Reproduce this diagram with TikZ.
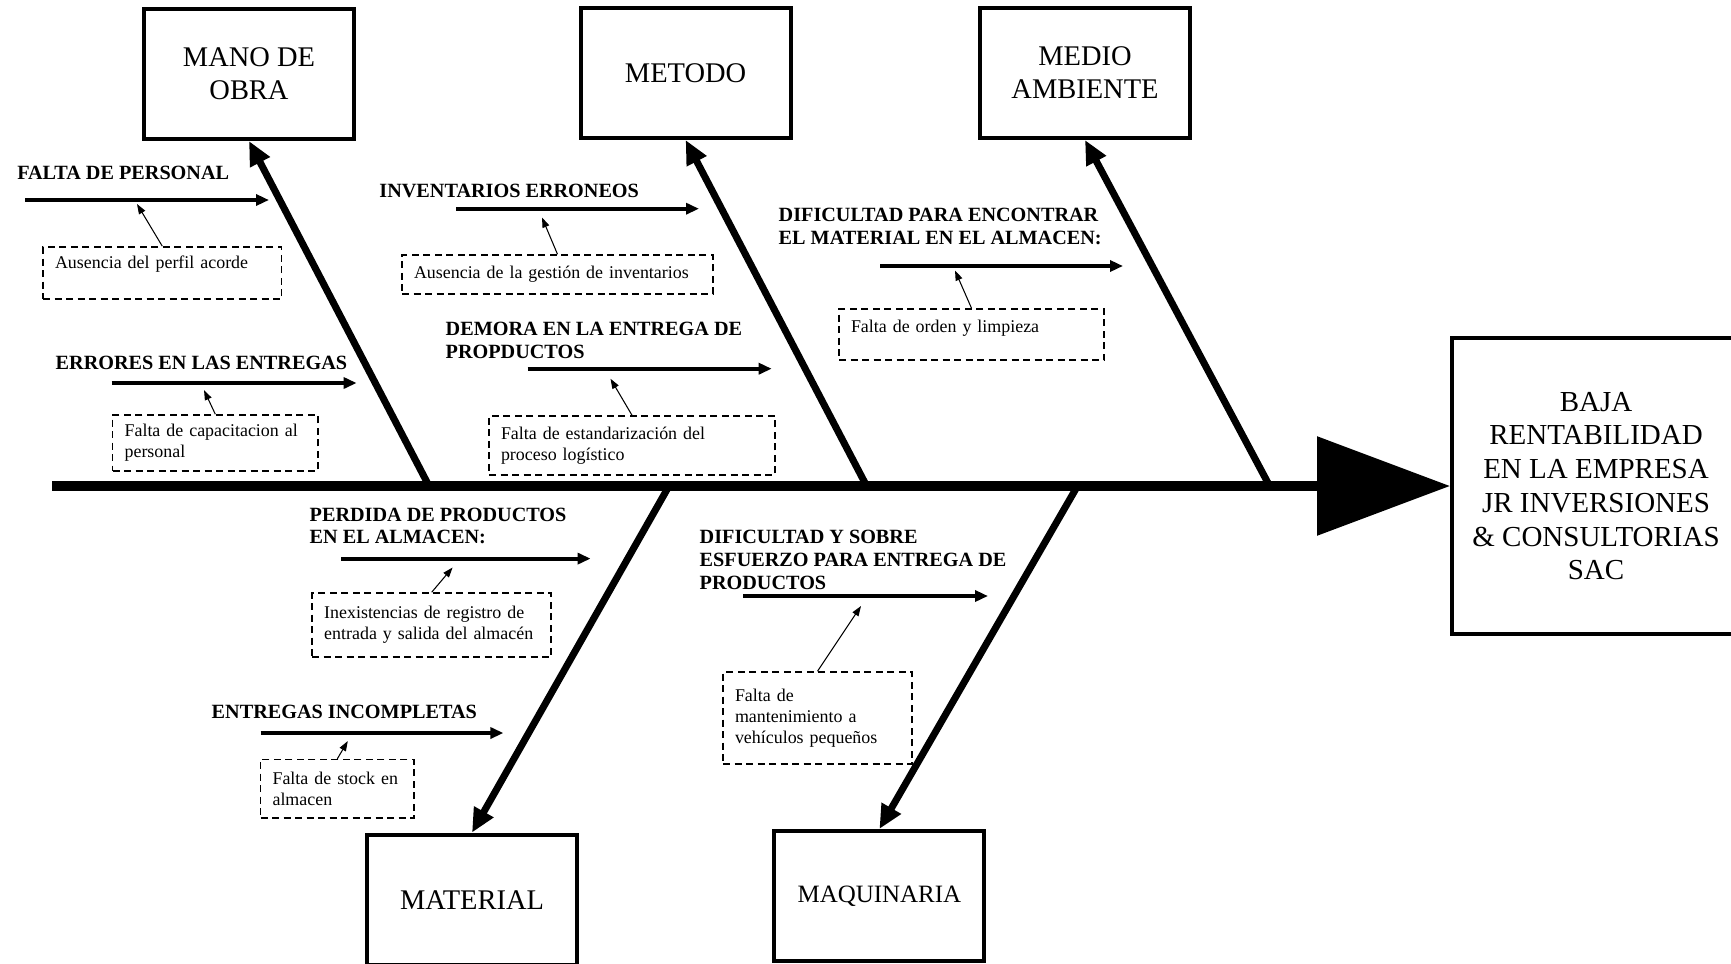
\documentclass[tikz,border=0pt]{standalone}
\usepackage{fontspec}
\setmainfont{Liberation Serif}
\usetikzlibrary{arrows.meta, positioning}
\tikzstyle{cat} = [rectangle, draw=black, line width=1.15pt, minimum width=21mm, minimum height=13mm, align=center, font=\fontsize{8.1}{9.35}\selectfont]
\tikzstyle{head} = [rectangle, draw=black, line width=1.15pt, minimum width=28.8mm, minimum height=29.6mm, align=center, font=\fontsize{8.25}{9.6}\selectfont]
\tikzstyle{cause} = [anchor=west, inner sep=0pt, align=left, font=\fontsize{5.75}{6.5}\selectfont\bfseries]
\tikzstyle{note} = [rectangle, draw=black, line width=0.45pt, dash pattern=on 0.7mm off 0.45mm, inner xsep=1.2mm, inner ysep=0.5mm, align=left, font=\fontsize{5.1}{5.95}\selectfont]
\tikzstyle{spine} = [line width=0.95mm, -{Triangle[length=13.3mm,width=9.7mm]}]
\tikzstyle{bone} = [line width=0.7mm, -{Triangle[length=2.4mm,width=2.1mm]}]
\tikzstyle{sub} = [line width=1.1pt, -{Triangle[length=1.3mm,width=1.1mm]}]
\tikzstyle{thin} = [line width=0.3pt, -{Triangle[length=1mm,width=0.7mm]}]

\begin{document}
\begin{tikzpicture}[x=0.1mm, y=-0.1mm]
    \useasboundingbox (0,0) rectangle (1731,963);

    \node (mano) [cat] at (249,74) {MANO DE\\OBRA};
    \node (metodo) [cat] at (685.6,73) {METODO};
    \node (medio) [cat] at (1085,73) {MEDIO\\AMBIENTE};
    \node (material) [cat] at (472,899.6) {MATERIAL};
    \node (maquinaria) [cat, font=\fontsize{7.1}{8.2}\selectfont] at (879.4,896) {MAQUINARIA};
    \node (baja) [head] at (1596,486) {BAJA\\RENTABILIDAD\\EN LA EMPRESA\\JR INVERSIONES\\\& CONSULTORIAS\\SAC};

    \coordinate (tail) at (52,486);
    \coordinate (s1) at (429,486);
    \coordinate (s2) at (866.6,486);
    \coordinate (s3) at (1269.6,486);
    \coordinate (s4) at (669,486);
    \coordinate (s5) at (1077.5,486);

    \draw [spine] (tail) -- (baja.west);
    \draw [bone] (s1) -- (mano.south);
    \draw [bone] (s2) -- (metodo.south);
    \draw [bone] (s3) -- (medio.south);
    \draw [bone] (s4) -- (material.north);
    \draw [bone] (s5) -- (maquinaria.north);

    % causas
    \node (personal) [cause] at (16.6,173) {FALTA DE PERSONAL};
    \node (errores) [cause] at (55,363) {ERRORES EN LAS ENTREGAS};
    \node (inventarios) [cause] at (378.7,191) {INVENTARIOS ERRONEOS};
    \node (demora) [cause] at (445,340.5) {DEMORA EN LA ENTREGA DE\\PROPDUCTOS};
    \node (dificultad) [cause] at (778,226.7) {DIFICULTAD PARA ENCONTRAR\\EL MATERIAL EN EL ALMACEN:};
    \node (perdida) [cause] at (309,526) {PERDIDA DE PRODUCTOS\\EN EL ALMACEN:};
    \node (incompletas) [cause] at (211,712) {ENTREGAS INCOMPLETAS};
    \node (esfuerzo) [cause] at (699,559.7) {DIFICULTAD Y SOBRE\\ESFUERZO PARA ENTREGA DE\\PRODUCTOS};

    \coordinate (a1) at (25.4,200);   \coordinate (e1) at (269,200);
    \coordinate (a2) at (111.5,383);  \coordinate (e2) at (356.6,383);
    \coordinate (a3) at (456,208.7);  \coordinate (e3) at (699,208.7);
    \coordinate (a4) at (527.7,368.7); \coordinate (e4) at (771.7,368.7);
    \coordinate (a5) at (880,266);    \coordinate (e5) at (1123,266);
    \coordinate (a6) at (341,558.6);  \coordinate (e6) at (590.6,558.6);
    \coordinate (a7) at (260.5,733);  \coordinate (e7) at (503.4,733);
    \coordinate (a8) at (743,596);    \coordinate (e8) at (988,596);

    \draw [sub] (a1) -- (e1);
    \draw [sub] (a2) -- (e2);
    \draw [sub] (a3) -- (e3);
    \draw [sub] (a4) -- (e4);
    \draw [sub] (a5) -- (e5);
    \draw [sub] (a6) -- (e6);
    \draw [sub] (a7) -- (e7);
    \draw [sub] (a8) -- (e8);

    % subcausas
    \node (perfil) [note, text width=21.45mm, minimum height=5.2mm, text depth=2.1mm] at (162.3,273) {Ausencia del perfil acorde};
    \node (capac) [note, text width=18.14mm, minimum height=5.6mm] at (215.3,443) {Falta de capacitacion al\\personal};
    \node (gestion) [note, text width=28.7mm, minimum height=3.87mm] at (557.5,274.4) {Ausencia de la gestión de inventarios};
    \node (estand) [note, text width=26.2mm, minimum height=5.87mm] at (632,445.4) {Falta de estandarización del\\proceso logístico};
    \node (orden) [note, text width=24.1mm, minimum height=5.1mm, text depth=1.6mm] at (971.5,334.5) {Falta de orden y limpieza};
    \node (registro) [note, text width=21.5mm, minimum height=6.4mm] at (431.7,625) {Inexistencias de registro de\\entrada y salida del almacén};
    \node (stock) [note, text width=12.95mm, minimum height=5.84mm] at (337.3,788.8) {Falta de stock en\\almacen};
    \node (manten) [note, text width=16.5mm, minimum height=9.2mm] at (817.5,718) {Falta de\\mantenimiento a\\vehículos pequeños};

    \coordinate (t1) at (137,204);
    \coordinate (t2) at (204,390);
    \coordinate (t3) at (542,217.5);
    \coordinate (t4) at (610.5,378.7);
    \coordinate (t5) at (955,270.5);
    \coordinate (t6) at (452.6,567.5);
    \coordinate (t7) at (347.8,741);
    \coordinate (t8) at (861,606);

    \draw [thin] (perfil.north) -- (t1);
    \draw [thin] (capac.north) -- (t2);
    \draw [thin] (gestion.north) -- (t3);
    \draw [thin] (estand.north) -- (t4);
    \draw [thin] (orden.north) -- (t5);
    \draw [thin] (registro.north) -- (t6);
    \draw [thin] (stock.north) -- (t7);
    \draw [thin] (manten.north) -- (t8);
\end{tikzpicture}
\end{document}
